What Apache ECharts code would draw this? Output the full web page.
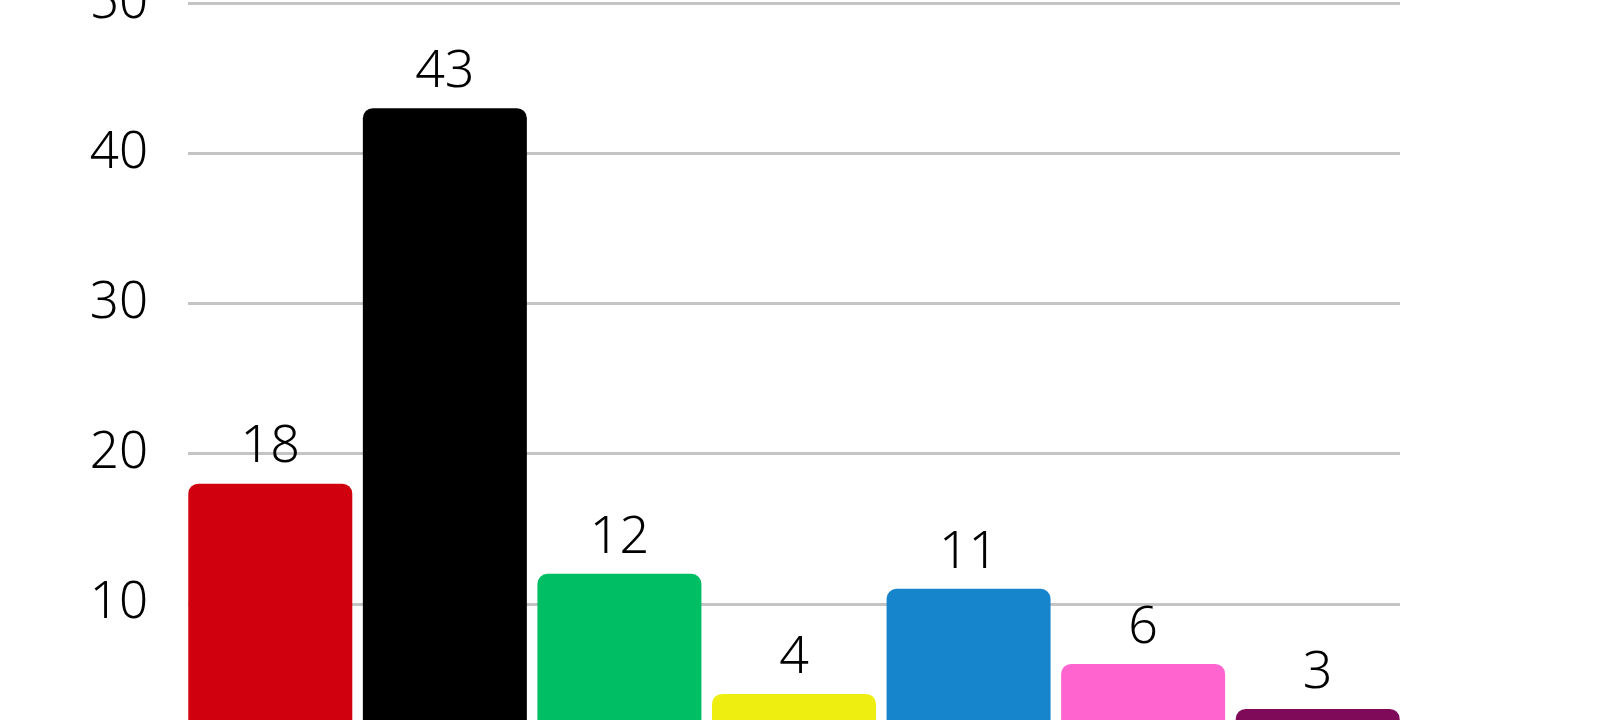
<!DOCTYPE html>
<html>
<head>
<meta charset="utf-8">
<script src="https://cdn.jsdelivr.net/npm/echarts@6/dist/echarts.min.js"></script>
<style>
  html, body { margin: 0; padding: 0; background: #fff; }
  #chart { width: 1600px; height: 720px; }
</style>
</head>
<body>
<div id="chart"></div>
<script>
// party results
const categories = ['A', 'B', 'C', 'D', 'E', 'F', 'G'];
const values = [18, 43, 12, 4, 11, 6, 3];
const colors = ['#d0000f', '#000000', '#00be63', '#eeee10', '#1785cc', '#ff64cf', '#800a5a'];
const yTicks = [0, 10, 20, 30, 40, 50];

const font = '"Noto Sans", "DejaVu Sans", sans-serif';
const chart = echarts.init(document.getElementById('chart'));

// grid 0 carries the gridlines and tick labels, grid 1 the bars
// (the gridlines stop a little short of the outer bar edges)
const option = {
  animation: false,
  textStyle: { fontFamily: font },
  grid: [
    { left: 188, right: 200, top: 3, bottom: -34, containLabel: false, outerBoundsMode: 'none' },
    { left: 183, right: 195, top: 3, bottom: -34, containLabel: false, outerBoundsMode: 'none' }
  ],
  xAxis: [
    {
      type: 'category', gridIndex: 0, data: categories,
      axisLine: { show: false }, axisTick: { show: false }, axisLabel: { show: false }
    },
    {
      type: 'category', gridIndex: 1, data: categories,
      axisLine: { show: false }, axisTick: { show: false }, axisLabel: { show: false }
    }
  ],
  yAxis: [
    {
      type: 'value', gridIndex: 0,
      min: yTicks[0], max: yTicks[yTicks.length - 1], interval: 10,
      axisLine: { show: false },
      axisTick: { show: false },
      axisLabel: { color: '#000', fontSize: 51, fontWeight: 300, margin: 40, fontFamily: font },
      splitLine: { lineStyle: { color: '#c4c4c4', width: 3 } }
    },
    {
      type: 'value', gridIndex: 1,
      min: yTicks[0], max: yTicks[yTicks.length - 1], interval: 10,
      axisLine: { show: false }, axisTick: { show: false },
      axisLabel: { show: false }, splitLine: { show: false }
    }
  ],
  series: [
    {
      type: 'bar',
      xAxisIndex: 1,
      yAxisIndex: 1,
      barWidth: 164,
      data: values.map((v, i) => ({ value: v, itemStyle: { color: colors[i] } })),
      itemStyle: { borderRadius: [10, 10, 0, 0] },
      label: {
        show: true,
        position: 'top',
        distance: 10,
        color: '#000',
        fontSize: 52,
        fontWeight: 300,
        fontFamily: font
      }
    }
  ]
};

chart.setOption(option);
</script>
</body>
</html>
